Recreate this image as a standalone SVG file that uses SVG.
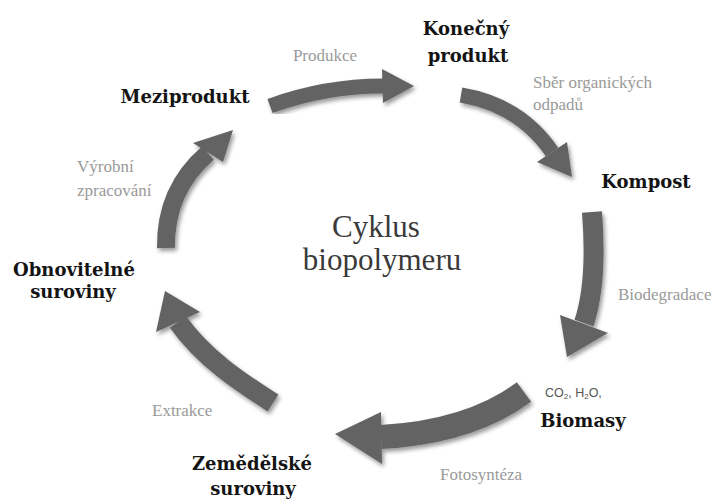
<svg xmlns="http://www.w3.org/2000/svg" width="716" height="503" viewBox="0 0 716 503">
<defs>
<filter id="sh" x="-20%" y="-20%" width="140%" height="140%">
<feGaussianBlur in="SourceAlpha" stdDeviation="2.2"/>
<feOffset dx="2" dy="3" result="b"/>
<feComponentTransfer><feFuncA type="linear" slope="0.4"/></feComponentTransfer>
<feMerge><feMergeNode/><feMergeNode in="SourceGraphic"/></feMerge>
</filter>
<style>
.shaft{fill:none;stroke:#646464;stroke-linecap:butt}
.head{fill:#646464}
.node{font-family:"DejaVu Serif","Liberation Serif",serif;font-weight:bold;font-size:18px;fill:#141414;text-anchor:middle}
.lbl{font-family:"Liberation Serif","Times New Roman",serif;font-size:17px;fill:#9a9a9a}
.title{font-family:"Liberation Serif","Times New Roman",serif;font-size:31px;fill:#3a3a3a;text-anchor:middle}
.chem{font-family:"Liberation Sans",Arial,sans-serif;font-size:12.5px;fill:#555}
</style>
</defs>
<rect width="716" height="503" fill="#ffffff"/>

<g id="connectors">
<g id="arrow-produkce" filter="url(#sh)">
<path class="shaft" stroke-width="15" d="M270,106 Q325,86 383,86"/>
<polygon class="head" points="382,69 414,86 383,103"/>
</g>
<g id="arrow-sber" filter="url(#sh)">
<path class="shaft" stroke-width="15" d="M461,95 Q520,105 552,152"/>
<polygon class="head" points="567,142 572,177 537,162"/>
</g>
<g id="arrow-biodegradace" filter="url(#sh)">
<path class="shaft" stroke-width="20" d="M592,212 C595,250 595,290 584,323"/>
<polygon class="head" points="560,315 608,333 567,357"/>
</g>
<g id="arrow-fotosynteza" filter="url(#sh)">
<path class="shaft" stroke-width="24" d="M524,392 Q470,432 381,437"/>
<polygon class="head" points="381,412 335,434 382,464"/>
</g>
<g id="arrow-extrakce" filter="url(#sh)">
<path class="shaft" stroke-width="20" d="M273,403 C245,385 205,360 178,322"/>
<polygon class="head" points="200,312 165,291 156,332"/>
</g>
<g id="arrow-vyrobni" filter="url(#sh)">
<path class="shaft" stroke-width="18" d="M166,248 Q165,190 208,153"/>
<polygon class="head" points="193,143 233,130 223,162"/>
</g>
</g>

<g id="edge-labels">
<text class="lbl" x="325" y="61" text-anchor="middle">Produkce</text>
<text class="lbl" x="533" y="88">Sběr organických</text>
<text class="lbl" x="533" y="110">odpadů</text>
<text class="lbl" x="618" y="300" font-size="17.5">Biodegradace</text>
<text class="lbl" x="440" y="480" font-size="17.5">Fotosyntéza</text>
<text class="lbl" x="152" y="416" font-size="16.5">Extrakce</text>
<text class="lbl" x="77" y="172">Výrobní</text>
<text class="lbl" x="77" y="196">zpracování</text>
</g>

<g id="node-konecny-produkt">
<text class="node" x="466" y="35">Konečný</text>
<text class="node" x="468" y="62">produkt</text>
</g>
<g id="node-kompost">
<text class="node" x="646" y="188">Kompost</text>
</g>
<g id="node-biomasy">
<text class="chem" x="545" y="397">CO<tspan font-size="8" dy="2">2</tspan><tspan dy="-2">, H</tspan><tspan font-size="8" dy="2">2</tspan><tspan dy="-2">O,</tspan></text>
<text class="node" x="583" y="427">Biomasy</text>
</g>
<g id="node-zemedelske-suroviny">
<text class="node" x="252" y="470">Zemědělské</text>
<text class="node" x="253" y="495">suroviny</text>
</g>
<g id="node-obnovitelne-suroviny">
<text class="node" x="74" y="276">Obnovitelné</text>
<text class="node" x="73" y="298">suroviny</text>
</g>
<g id="node-meziprodukt">
<text class="node" x="185" y="103">Meziprodukt</text>
</g>
<g id="node-center">
<text class="title" x="376" y="237">Cyklus</text>
<text class="title" x="382" y="270">biopolymeru</text>
</g>
</svg>
